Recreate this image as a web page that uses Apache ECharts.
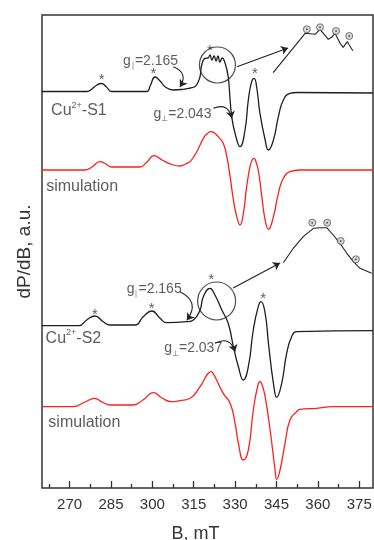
<!DOCTYPE html>
<html>
<head>
<meta charset="utf-8">
<script src="https://cdn.jsdelivr.net/npm/echarts@6/dist/echarts.min.js"></script>
<style>
  html, body { margin: 0; padding: 0; background: #fff; }
  #chart { width: 374px; height: 540px; }
</style>
</head>
<body>
<div id="chart"></div>
<script>
// magnetic field B (mT), signal relative to each trace's own baseline (a.u.)
const s1 = [[260.0,0],[276.3,0],[278.1,2.5],[279.9,6.5],[281.6,8],[283.2,5],[285.3,0],[298.0,0],[299.2,5.5],[301.0,14.5],[302.8,10.5],[304.6,4.8],[307.6,1.5],[311.2,2.2],[313.7,3.5],[315.5,5],[316.6,9.5],[317.3,14.8],[317.9,26.5],[319.1,33.2],[320.2,33.5],[320.9,36.5],[321.6,31.5],[322.4,35.5],[323.1,30.5],[323.8,35.5],[324.5,29.5],[325.3,33.5],[326.4,28.2],[327.5,14.8],[328.2,-8.5],[328.8,-25.2],[330.0,-41.8],[331.8,-55.2],[333.6,-38.5],[334.8,-8.5],[336.0,9.8],[336.9,13.2],[337.8,4.8],[339.0,-21.5],[340.9,-48.5],[342.1,-58.5],[343.9,-48.5],[345.7,-25.2],[347.5,-8.5],[349.9,-1.8],[352.3,-1],[380.0,-1.5]];
const sim1 = [[260.0,0],[275.6,0],[278.1,3],[281.0,8.3],[283.2,6],[285.4,3],[295.5,3],[297.7,7],[300.7,14.3],[303.5,10],[307.6,5],[310.0,4],[312.5,6.7],[313.7,8.3],[316.1,18.3],[318.5,31.7],[320.0,36.5],[321.2,38.3],[322.5,37],[323.9,33.3],[325.7,26.7],[327.0,13.3],[328.2,-6.7],[329.4,-30],[330.6,-46.7],[331.8,-55],[333.0,-43.3],[334.2,-16.7],[335.4,3.3],[336.2,10],[336.9,11.7],[337.6,8],[338.4,0],[339.7,-26.7],[340.9,-50],[342.1,-59.3],[343.9,-46.7],[345.7,-23.3],[347.5,-8.3],[349.9,-1.7],[353.5,0],[380.0,0]];
const s2 = [[260.0,0],[273.4,0],[276.2,5.7],[279.2,9.7],[282.2,4],[284.7,0.7],[293.7,0.7],[296.7,9],[299.8,14.7],[302.8,7.4],[305.2,3],[312.5,4],[314.9,5.7],[317.3,15.7],[318.5,29],[320.9,37.4],[322.7,30.7],[325.2,15.7],[327.5,2.4],[329.4,-21],[331.2,-41],[333.0,-54.3],[334.8,-41],[336.6,-4.3],[338.4,19],[339.4,24],[340.9,12.4],[342.1,-17.6],[343.9,-57.6],[345.1,-71.6],[346.9,-57.6],[348.7,-27.6],[350.5,-11],[352.3,-6],[380.0,-5]];
const sim2 = [[260.0,0],[271.2,0],[275.6,4.7],[279.0,8.4],[282.1,4.2],[284.7,1.7],[293.0,1.7],[296.6,6.7],[300.4,14],[303.5,8.7],[307.0,5],[310.0,6],[313.7,8.4],[317.3,20],[319.1,28.7],[320.3,33.5],[321.3,35],[322.3,32],[323.3,26.7],[325.7,13.4],[328.2,3.4],[330.0,-16.6],[331.2,-36.6],[333.0,-53.3],[334.8,-43.3],[336.6,-3.3],[338.0,18],[339.0,25],[339.9,21],[340.9,10],[342.7,-23.3],[344.5,-63.3],[345.1,-72.6],[346.3,-63.3],[348.1,-36.6],[349.9,-13.3],[352.3,-5],[353.5,-2.6],[359.6,-1.6],[365.5,0],[380.0,0]];

// enlarged insets of the circled g|| region
const inset1 = [[343.8,18.8],[355.4,58.2],[359.0,57.2],[360.8,62.2],[363.8,52.2],[365.0,54.2],[366.2,58.2],[368.1,48.2],[369.2,44.2],[370.7,49.8],[371.4,46.5],[372.7,40.8]];
const inset2 = [[347.5,63],[351.1,77.4],[354.7,89],[358.4,97.4],[360.8,98],[363.2,98],[365.6,90.7],[368.0,82.4],[370.5,72.4],[372.9,64],[375.3,57.4],[379.5,52.4]];
const hfMarks1 = [[356.0,62.2],[360.8,64.2],[366.6,60.5],[371.4,55.5]];
const hfMarks2 = [[358.0,103],[363.4,103],[368.3,84.7],[373.8,66.4]];

const stars1 = [[281.6,12],[300.4,17.5],[320.9,41],[337.2,18]];
const stars2 = [[279.2,11],[299.8,17],[321.3,46],[340.2,27]];

const baselines = { s1: 396.5, sim1: 318, s2: 162.3, sim2: 81.3 };

const majorTicks = [270, 285, 300, 315, 330, 345, 360, 375];
const minorTicks = [262.5, 277.5, 292.5, 307.5, 322.5, 337.5, 352.5, 367.5];

const FONT = 'Liberation Sans, Arial, sans-serif';
const TXT = '#333';

const shift = (arr, base) => arr.map(p => [p[0], p[1] + base]);
const at = (b, rel, base) => [b, rel + base];

const chart = echarts.init(document.getElementById('chart'));

function traceSeries(name, data, base, color) {
    return {
        name: name,
        type: 'line',
        data: shift(data, base),
        showSymbol: false,
        smooth: 0.5,
        lineStyle: { color: color, width: 1.3 },
        silent: true,
        animation: false,
        z: 3
    };
}

function noteSeries(notes) {
    return {
        type: 'scatter',
        symbolSize: 0,
        silent: true,
        animation: false,
        data: notes.map(n => ({
            value: n.pos,
            label: { formatter: n.text }
        })),
        label: {
            show: true,
            position: 'right',
            distance: 0,
            color: TXT,
            fontFamily: FONT,
            rich: {
                n: { fontSize: 16, color: TXT, fontFamily: FONT, lineHeight: 20 },
                g: { fontSize: 14, color: TXT, fontFamily: FONT, lineHeight: 18 },
                sup: { fontSize: 9, color: TXT, fontFamily: FONT, verticalAlign: 'top', lineHeight: 10 },
                subPar: { fontSize: 8, color: '#aaa', fontFamily: FONT, verticalAlign: 'bottom', lineHeight: 9 },
                subPerp: { fontSize: 8, color: TXT, fontFamily: FONT, verticalAlign: 'bottom', lineHeight: 9 }
            }
        },
        z: 5
    };
}

function starSeries(data, base) {
    return {
        type: 'scatter',
        symbolSize: 0,
        silent: true,
        animation: false,
        data: shift(data, base),
        label: {
            show: true,
            position: 'inside',
            formatter: '*',
            fontSize: 15,
            color: TXT,
            fontFamily: FONT
        },
        z: 5
    };
}

function hfSeries(data, base) {
    return [{
        type: 'scatter',
        symbol: 'circle',
        symbolSize: 7,
        silent: true,
        animation: false,
        data: shift(data, base),
        itemStyle: { color: '#d0d0d0', borderColor: '#555', borderWidth: 1 },
        z: 6
    }, {
        type: 'scatter',
        symbol: 'circle',
        symbolSize: 2,
        silent: true,
        animation: false,
        data: shift(data, base),
        itemStyle: { color: '#444' },
        z: 7
    }];
}

function insetSeries(data, base) {
    return {
        type: 'line',
        data: shift(data, base),
        showSymbol: false,
        lineStyle: { color: '#222', width: 1.1 },
        silent: true,
        animation: false,
        z: 3
    };
}

function arrowSeries(list, curve) {
    return {
        type: 'lines',
        coordinateSystem: 'cartesian2d',
        silent: true,
        animation: false,
        symbol: ['none', 'arrow'],
        symbolSize: 7,
        lineStyle: { color: '#222', width: 1.1, curveness: curve, opacity: 1 },
        data: list.map(c => ({ coords: c })),
        z: 6
    };
}

// pointers from the circled region to its enlargement
const zoomArrows = [
    [at(330.7, 24.8, baselines.s1), at(349.2, 43.5, baselines.s1)],
    [at(329.3, 37.7, baselines.s2), at(346.3, 62.7, baselines.s2)]
];
// curved pointers from the g-value labels
const gArrows = [
    [at(307.6, 24.8, baselines.s1), at(310.0, 4.5, baselines.s1)],
    [at(322.1, -16.8, baselines.s1), at(328.8, -26.8, baselines.s1)],
    [at(310.0, 34, baselines.s2), at(312.5, 5.4, baselines.s2)],
    [at(322.7, -17.6, baselines.s2), at(330.0, -26, baselines.s2)]
];

const notes = [
    { pos: at(289.4, 30.5, baselines.s1), text: '{g|g}{subPar|∥}{g|=2.165}' },
    { pos: at(263.3, -19.5, baselines.s1), text: '{n|Cu}{sup|2+}{n|-S1}' },
    { pos: at(300.4, -22.5, baselines.s1), text: '{g|g}{subPerp|⊥}{g|=2.043}' },
    { pos: at(261.5, -16.5, baselines.sim1), text: '{n|simulation}' },
    { pos: at(290.7, 36.7, baselines.s2), text: '{g|g}{subPar|∥}{g|=2.165}' },
    { pos: at(261.3, -12.8, baselines.s2), text: '{n|Cu}{sup|2+}{n|-S2}' },
    { pos: at(304.3, -22.6, baselines.s2), text: '{g|g}{subPerp|⊥}{g|=2.037}' },
    { pos: at(262.3, -16.3, baselines.sim2), text: '{n|simulation}' }
];

chart.setOption({
    backgroundColor: '#fff',
    grid: {
        left: 42, right: 1, top: 15, bottom: 52,
        outerBoundsMode: 'none',
        containLabel: false,
        show: true, borderColor: '#333', borderWidth: 1.5
    },
    xAxis: [{
        type: 'value',
        min: 260, max: 380,
        name: 'B, mT',
        nameLocation: 'middle',
        nameGap: 37,
        nameTextStyle: { fontSize: 18, color: TXT, fontFamily: FONT, padding: [0, 24, 0, 0] },
        axisLine: { show: false },
        splitLine: { show: false },
        axisTick: { inside: true, length: 7, customValues: majorTicks, lineStyle: { color: '#333', width: 1.3 } },
        axisLabel: { customValues: majorTicks, fontSize: 15, color: TXT, fontFamily: FONT, margin: 9 }
    }, {
        type: 'value',
        min: 260, max: 380,
        position: 'bottom',
        axisLine: { show: false },
        splitLine: { show: false },
        axisLabel: { show: false },
        axisTick: { inside: true, length: 4, customValues: minorTicks, lineStyle: { color: '#333', width: 1.3 } }
    }],
    yAxis: {
        type: 'value',
        min: 0, max: 473,
        name: 'dP/dB, a.u.',
        nameLocation: 'middle',
        nameRotate: 90,
        nameGap: 8,
        nameTextStyle: { fontSize: 19, color: TXT, fontFamily: FONT },
        axisLine: { show: false },
        axisTick: { show: false },
        axisLabel: { show: false },
        splitLine: { show: false }
    },
    series: [
        traceSeries('Cu-S1', s1, baselines.s1, '#1e1e1e'),
        traceSeries('sim-S1', sim1, baselines.sim1, '#ff1e1e'),
        traceSeries('Cu-S2', s2, baselines.s2, '#1e1e1e'),
        traceSeries('sim-S2', sim2, baselines.sim2, '#ff1e1e'),
        insetSeries(inset1, baselines.s1),
        insetSeries(inset2, baselines.s2),
        ...hfSeries(hfMarks1, baselines.s1),
        ...hfSeries(hfMarks2, baselines.s2),
        starSeries(stars1, baselines.s1),
        starSeries(stars2, baselines.s2),
        arrowSeries(zoomArrows, 0),
        arrowSeries(gArrows, 0.6),
        {
            type: 'scatter',
            symbol: 'circle',
            silent: true,
            animation: false,
            data: [
                { value: at(323.6, 26.5, baselines.s1), symbolSize: 36 },
                { value: at(323.3, 24.7, baselines.s2), symbolSize: 38 }
            ],
            itemStyle: { color: 'rgba(0,0,0,0)', borderColor: '#222', borderWidth: 1.2 },
            z: 4
        },
        noteSeries(notes)
    ]
});
</script>
</body>
</html>
